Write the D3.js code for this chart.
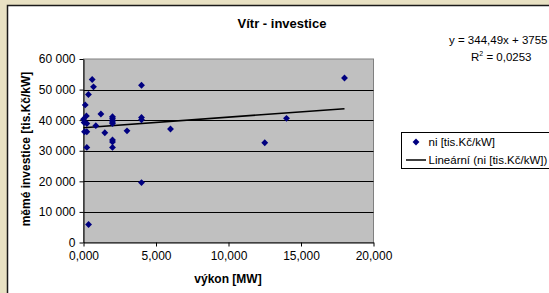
<!DOCTYPE html>
<html lang="cs">
<head>
<meta charset="UTF-8">
<title>Vítr - investice</title>
<style>
  body { margin: 0; background: #e8e1c3; }
  svg { display: block; font-family: "Liberation Sans", Arial, sans-serif; }
</style>
</head>
<body>
<svg id="chart" width="549" height="293"></svg>
<script src="https://d3js.org/d3.v7.min.js"></script>
<script>
// výkon [MW] and měrné investice [tis.Kč/kW]
var vykon = [0.60, 0.69, 0.34, 0.12, 0.20, 0.00, 0.04, 0.23, 0.07, 0.23, 0.23, 0.35,
             0.85, 1.20, 1.47, 2.00, 2.00, 2.00, 2.00, 2.00, 2.00, 2.00, 2.00,
             3.00, 4.00, 4.00, 4.00, 4.00, 6.00, 12.50, 14.00, 18.00];
var investice = [53300, 50900, 48400, 45000, 41400, 40300, 39200, 38900, 36200, 36200, 31100, 5900,
                 38200, 42000, 35900, 41100, 40600, 40000, 39400, 38900, 33500, 32900, 31100,
                 36500, 51400, 40900, 40100, 19600, 37100, 32600, 40600, 53800];

// linear trend (Excel)
var slope = 344.49, intercept = 37550;

var xTicks = [0, 5, 10, 15, 20];
var yTicks = [0, 10000, 20000, 30000, 40000, 50000, 60000];

var svg = d3.select("#chart");

// white chart frame
svg.append("rect")
    .attr("x", 7.5).attr("y", 5.5)
    .attr("width", 560).attr("height", 300)
    .attr("fill", "#fff")
    .attr("stroke", "#1a1a1a").attr("stroke-width", 1.5);

var plotL = 83.5, plotR = 373.5, plotT = 59, plotB = 242.5;

var x = d3.scaleLinear().domain([0, 20]).range([plotL, plotR]);
var y = d3.scaleLinear().domain([0, 60000]).range([plotB, plotT]);

// plot area
svg.append("rect")
    .attr("x", plotL).attr("y", plotT)
    .attr("width", plotR - plotL).attr("height", plotB - plotT)
    .attr("fill", "#c0c0c0")
    .attr("stroke", "#808080").attr("stroke-width", 1);

// gridlines
svg.append("g").selectAll("line")
    .data(yTicks.filter(function(d) { return d > 0 && d < 60000; }))
    .join("line")
    .attr("x1", plotL).attr("x2", plotR)
    .attr("y1", function(d) { return Math.round(y(d)) + 0.5; })
    .attr("y2", function(d) { return Math.round(y(d)) + 0.5; })
    .attr("stroke", "#000").attr("stroke-width", 1);

var fmtX = function(d) { return d3.format(".3f")(d).replace(".", ","); };
var fmtY = function(d) { return d3.format(",")(d).replace(/,/g, " "); };

// axes
var xAxis = svg.append("g")
    .attr("transform", "translate(0," + plotB + ")")
    .call(d3.axisBottom(x).tickValues(xTicks).tickFormat(fmtX).tickSizeInner(4).tickSizeOuter(0).tickPadding(5));
var yAxis = svg.append("g")
    .attr("transform", "translate(" + plotL + ",0)")
    .call(d3.axisLeft(y).tickValues(yTicks).tickFormat(fmtY).tickSizeInner(4).tickSizeOuter(0).tickPadding(4));

[xAxis, yAxis].forEach(function(a) {
    a.selectAll("text").attr("font-size", 12).attr("fill", "#000")
        .attr("font-family", "Liberation Sans, Arial, sans-serif");
    a.selectAll("line").attr("stroke", "#000");
    a.select(".domain").attr("stroke", "#000");
});

// trend line from 0 to max x
var xMax = d3.max(vykon);
svg.append("line")
    .attr("x1", x(0)).attr("y1", y(intercept))
    .attr("x2", x(xMax)).attr("y2", y(intercept + slope * xMax))
    .attr("stroke", "#000").attr("stroke-width", 1.5);

// points
var diamond = d3.symbol().type(d3.symbolDiamond2).size(30);
svg.append("g").selectAll("path")
    .data(d3.range(vykon.length))
    .join("path")
    .attr("d", diamond)
    .attr("transform", function(i) { return "translate(" + x(vykon[i]) + "," + y(investice[i]) + ")"; })
    .attr("fill", "#000080");

// titles
svg.append("text")
    .attr("x", 282).attr("y", 28)
    .attr("text-anchor", "middle")
    .attr("font-size", 13).attr("font-weight", "bold")
    .text("Vítr - investice");

svg.append("text")
    .attr("x", 228).attr("y", 283)
    .attr("text-anchor", "middle")
    .attr("font-size", 12).attr("font-weight", "bold")
    .text("výkon [MW]");

svg.append("text")
    .attr("transform", "translate(30,149) rotate(-90)")
    .attr("text-anchor", "middle")
    .attr("font-size", 12).attr("font-weight", "bold")
    .text("měmé investice [tis.Kč/kW]");

// equation
svg.append("text")
    .attr("x", 449).attr("y", 44)
    .attr("font-size", 11.5)
    .text("y = 344,49x + 3755");
var r2 = svg.append("text")
    .attr("x", 471).attr("y", 61)
    .attr("font-size", 11.5);
r2.append("tspan").text("R");
r2.append("tspan").attr("font-size", 7).attr("dy", -5).text("2");
r2.append("tspan").attr("dy", 5).text(" = 0,0253");

// legend
var lg = svg.append("g");
lg.append("rect")
    .attr("x", 401.5).attr("y", 132.5)
    .attr("width", 160).attr("height", 36)
    .attr("fill", "#fff").attr("stroke", "#000").attr("stroke-width", 1);
lg.append("path")
    .attr("d", diamond)
    .attr("transform", "translate(416,142)")
    .attr("fill", "#000080");
lg.append("text")
    .attr("x", 428.5).attr("y", 146)
    .attr("font-size", 11.5)
    .text("ni [tis.Kč/kW]");
lg.append("line")
    .attr("x1", 406).attr("x2", 426)
    .attr("y1", 160).attr("y2", 160)
    .attr("stroke", "#000").attr("stroke-width", 1.5);
lg.append("text")
    .attr("x", 428.5).attr("y", 164)
    .attr("font-size", 11.5)
    .text("Lineární (ni [tis.Kč/kW])");
</script>
</body>
</html>
